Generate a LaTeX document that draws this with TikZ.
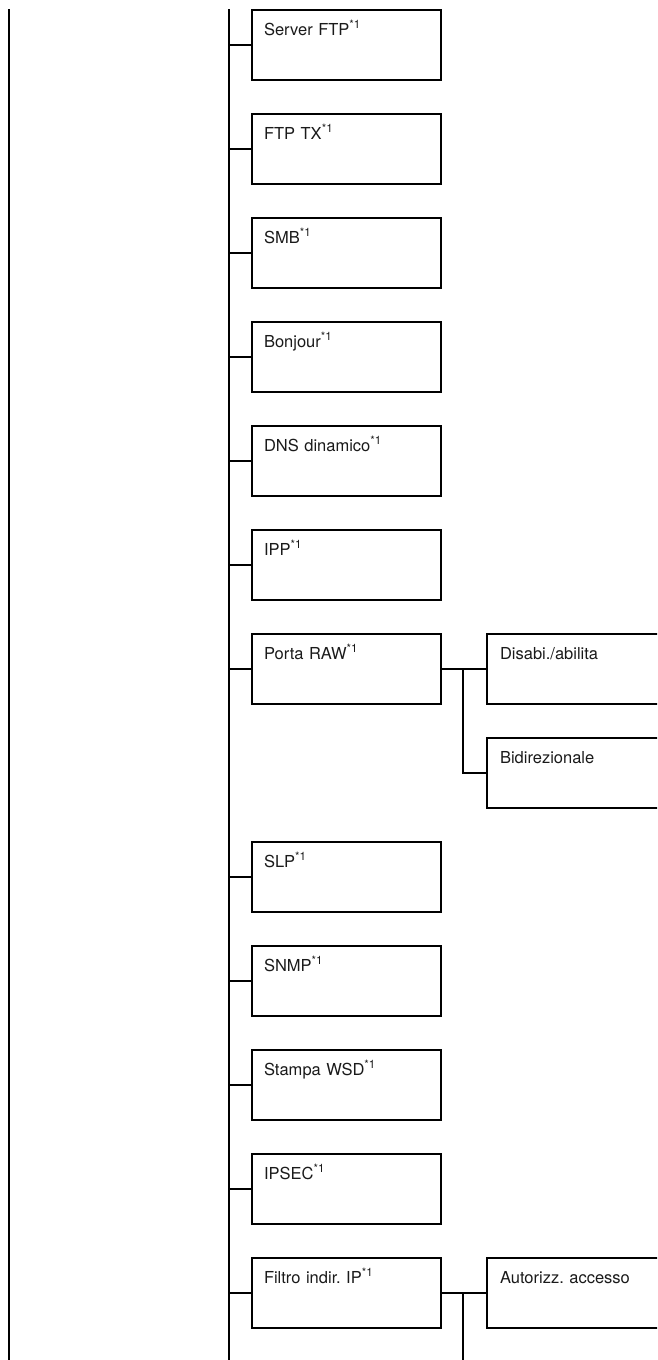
\documentclass[tikz,border=0pt]{standalone}
\usepackage{fontspec}
\setmainfont{TeX Gyre Heros}
\frenchspacing
\definecolor{menuline}{HTML}{000000}
\definecolor{menutext}{HTML}{1A1A1A}

\begin{document}
\begin{tikzpicture}[x=1pt, y=-1pt,
  conn/.style={draw=menuline, line width=2pt},
  menubox/.style={draw=menuline, line width=2pt, rectangle, anchor=north west,
    minimum width=189pt, minimum height=70pt, text width=165pt, align=left,
    inner xsep=12pt, inner ysep=13pt, text height=12pt, text depth=32pt,
    text=menutext, font=\fontsize{16.5}{20}\selectfont},
  subbox/.style={menubox, minimum width=220pt, text width=194pt, inner xsep=13pt}]

% Page frame
\useasboundingbox (0,0) rectangle (657,1360);
\clip (0,0) rectangle (657,1360);

% Left rule and main spine
\coordinate (leftTop) at (9,9);
\coordinate (leftEnd) at (9,1362);
\coordinate (spineTop) at (229,9);
\coordinate (spineEnd) at (229,1362);
\draw[conn] (leftTop) -- (leftEnd);
\draw[conn] (spineTop) -- (spineEnd);

% Menu items on the spine (pitch 104)
\node[menubox] (srvftp) at (251,9)    {Server FTP\textsuperscript{*1}};
\node[menubox] (ftptx)  at (251,113)  {FTP TX\textsuperscript{*1}};
\node[menubox] (smb)    at (251,217)  {SMB\textsuperscript{*1}};
\node[menubox] (bonj)   at (251,321)  {Bonjour\textsuperscript{*1}};
\node[menubox] (ddns)   at (251,425)  {DNS dinamico\textsuperscript{*1}};
\node[menubox] (ipp)    at (251,529)  {IPP\textsuperscript{*1}};
\node[menubox] (rawport) at (251,633) {Porta RAW\textsuperscript{*1}};
\node[menubox] (slp)    at (251,841)  {SLP\textsuperscript{*1}};
\node[menubox] (snmp)   at (251,945)  {SNMP\textsuperscript{*1}};
\node[menubox] (wsd)    at (251,1049) {Stampa WSD\textsuperscript{*1}};
\node[menubox] (ipsec)  at (251,1153) {IPSEC\textsuperscript{*1}};
\node[menubox] (ipfilt) at (251,1257) {Filtro indir. IP\textsuperscript{*1}};

\foreach \item in {srvftp,ftptx,smb,bonj,ddns,ipp,rawport,slp,snmp,wsd,ipsec,ipfilt}
  \draw[conn] (spineTop |- \item.west) -- (\item.west);

% Sub-items of Porta RAW
\node[subbox] (rawenable) at (486,633) {Disabi./abilita};
\node[subbox] (rawbidir)  at (486,737) {Bidirezionale};
\draw[conn] (rawport.east) -- (rawenable.west);
\draw[conn] (463,0 |- rawenable.west) |- (rawbidir.west);

% Sub-items of Filtro indir. IP
\node[subbox] (ipaccess) at (486,1257) {Autorizz. accesso};
\coordinate (filtEnd) at (463,1362);
\draw[conn] (ipfilt.east) -- (ipaccess.west);
\draw[conn] (filtEnd |- ipaccess.west) -- (filtEnd);

\end{tikzpicture}
\end{document}
